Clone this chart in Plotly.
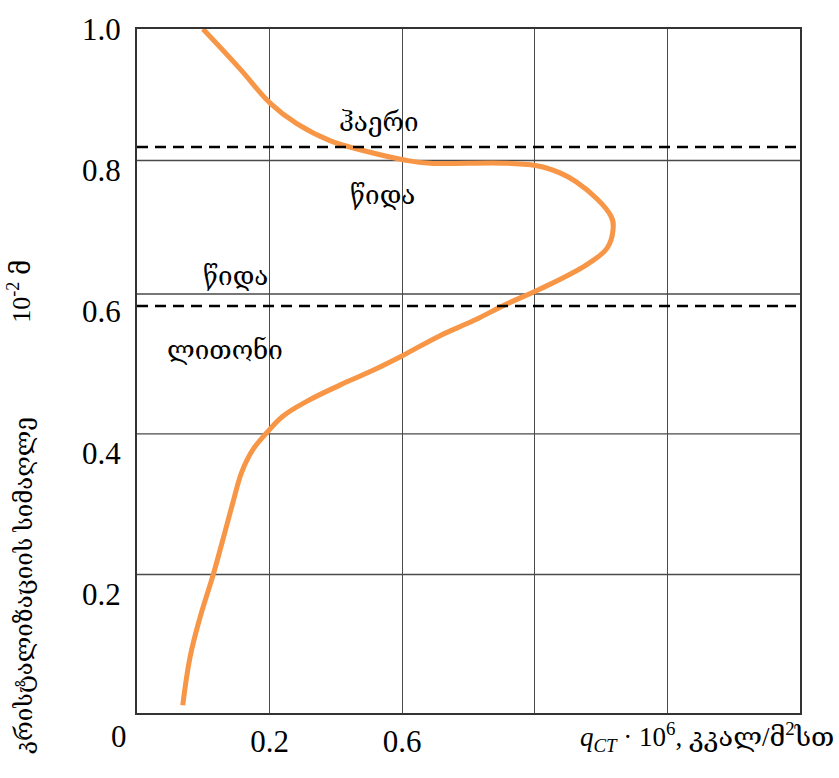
import plotly.graph_objects as go

# Curve: heat flux q (x) vs crystallization height (y)
curve_q = [0.0995, 0.155, 0.202, 0.241, 0.291, 0.341, 0.407, 0.442, 0.558,
           0.611, 0.662, 0.715, 0.718, 0.709, 0.679, 0.608, 0.558, 0.507,
           0.457, 0.401, 0.356, 0.306, 0.256, 0.220, 0.196, 0.175, 0.158, 0.145,
           0.130, 0.115, 0.095, 0.080, 0.069]
curve_h = [1.000, 0.944, 0.894, 0.866, 0.842, 0.828, 0.814, 0.810, 0.810,
           0.805, 0.784, 0.735, 0.716, 0.690, 0.667, 0.632, 0.611, 0.587,
           0.566, 0.538, 0.517, 0.496, 0.473, 0.452, 0.429, 0.405, 0.373, 0.331,
           0.279, 0.228, 0.167, 0.111, 0.043]

x_tick_vals = [0.2, 0.4, 0.6, 0.8]
x_tick_text = ["0.2", "0.6", "", ""]
y_tick_vals = [0.2, 0.4, 0.6, 0.8, 1.0]
y_tick_text = ["0.2", "0.4", "0.6", "0.8", "1.0"]
h_grid = [0.228, 0.427, 0.625, 0.814]
boundaries = [0.608, 0.833]

FONT = "Liberation Serif, DejaVu Serif, serif"
ORANGE = "#F79646"
GRID = "#4a4a4a"

fig = go.Figure()
fig.add_trace(go.Scatter(x=curve_q, y=curve_h, mode="lines",
                         line=dict(color=ORANGE, width=5, shape="spline", smoothing=1.1),
                         hoverinfo="skip", showlegend=False))

shapes = []
for g in h_grid:
    shapes.append(dict(type="line", xref="paper", x0=0, x1=1, yref="y", y0=g, y1=g,
                       line=dict(color=GRID, width=1.4), layer="below"))
for b in boundaries:
    shapes.append(dict(type="line", xref="paper", x0=0, x1=1, yref="y", y0=b, y1=b,
                       line=dict(color="black", width=2.5, dash="11px,7px"), layer="above"))

ann_font = dict(family=FONT, size=26, color="black")
tick = dict(family=FONT, size=31, color="black")
annotations = [
    dict(text="ჰაერი", x=0.364, y=0.867, xref="x", yref="y", showarrow=False, font=ann_font),
    dict(text="წიდა", x=0.371, y=0.765, xref="x", yref="y", showarrow=False, font=ann_font),
    dict(text="წიდა", x=0.149, y=0.650, xref="x", yref="y", showarrow=False, font=ann_font),
    dict(text="ლითონი", x=0.133, y=0.545, xref="x", yref="y", showarrow=False, font=ann_font),
    dict(text="0", x=-0.042, y=-0.035, xref="paper", yref="paper", yanchor="middle",
         showarrow=False, font=tick),
    dict(text="<i>q</i><sub><i>CT</i></sub> · 10<sup>6</sup>, კკალ/მ<sup>2</sup>სთ",
         x=1.055, y=-0.035, xref="paper", yref="paper", xanchor="right", yanchor="middle",
         showarrow=False, font=dict(family=FONT, size=27, color="black")),
    dict(text="კრისტალიზაციის სიმაღლე", x=-0.192, y=0.454, xref="paper", yref="y",
         yanchor="top", textangle=-90, showarrow=False,
         font=dict(family=FONT, size=24, color="black")),
    dict(text="10<sup>-2</sup> მ", x=-0.205, y=0.629, xref="paper", yref="y",
         textangle=-90, showarrow=False, font=dict(family=FONT, size=26, color="black")),
]

fig.update_layout(
    width=839, height=778,
    margin=dict(l=137, r=39, t=22, b=65),
    plot_bgcolor="white", paper_bgcolor="white",
    font=dict(family=FONT, size=28, color="black"),
    shapes=shapes, annotations=annotations,
    xaxis=dict(range=[0, 1], tickvals=x_tick_vals, ticktext=x_tick_text,
               tickfont=tick,
               showgrid=True, gridcolor=GRID, gridwidth=1.4, zeroline=False,
               showline=True, mirror=True, linecolor="#333", linewidth=2,
               ticks="", ticklabelstandoff=0),
    yaxis=dict(range=[0.032, 1.0], tickvals=y_tick_vals, ticktext=y_tick_text,
               tickfont=tick,
               showgrid=False, zeroline=False,
               showline=True, mirror=True, linecolor="#333", linewidth=2,
               ticks="", ticklabelstandoff=8),
)

fig.write_html("out.html")
